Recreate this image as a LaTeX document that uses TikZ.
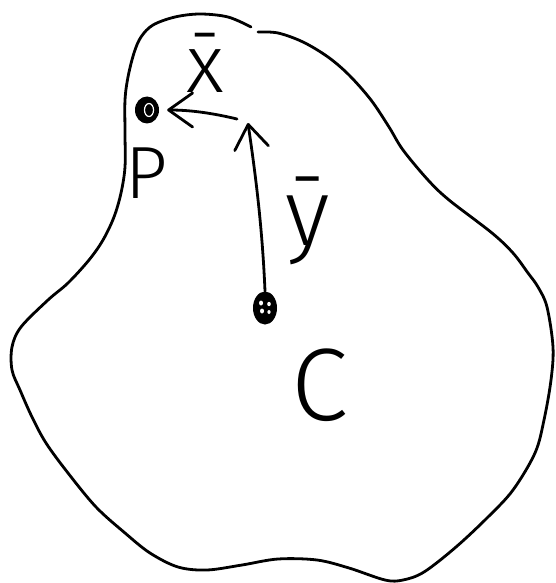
\documentclass[tikz,border=0pt]{standalone}
\usepackage{fontspec}
\newfontfamily\hand{Fira Sans Light}
\usetikzlibrary{arrows.meta,shapes.geometric}
\tikzset{
  pen/.style={line width=2.8pt, line cap=round, line join=round},
  arr/.style={pen, -{Straight Barb[length=24pt,width=34pt,round]}},
  dot/.style={ellipse, fill=black, draw=none, inner sep=0pt},
  lbl/.style={inner sep=0pt, anchor=base},
}
\newcommand{\hfs}[1]{\hand\fontsize{#1}{#1}\selectfont}
\begin{document}
\begin{tikzpicture}[x=1pt,y=-1pt]
\useasboundingbox (0,0) rectangle (555,583);
% outline
\draw[pen] plot[smooth, tension=0.55] coordinates {
(258,32) (278,33) (303,42) (328,57) (349,75) (371,100) (389,127) (403,150)
(428,180) (449,200) (492,233) (513,253) (528,273) (538,287) (547,307)
(553,347) (551,380) (544,420) (535,453) (513,490) (488,517) (456,547)
(424,572) (403,580) (385,580) (349,568) (317,560) (278,559) (242,565)
(207,570) (178,567) (150,553) (125,533) (96,507) (68,473) (46,443)
(32,417) (20,390) (12,370) (12,347) (21,327) (48,300) (68,283) (89,260)
(103,240) (114,217) (121,193) (125,167) (125,133) (125,100) (128,77)
(134,53) (141,37) (153,25) (175,17) (200,14) (228,17) (251,27)};
% points
\node[dot, minimum width=24pt, minimum height=27pt] (P) at (147,110) {};
\draw[white, line width=1.2pt] (149,110) ellipse (4.5pt and 6.5pt);
\node[dot, minimum width=24pt, minimum height=33pt] (C) at (265,308) {};
\fill[white] (261,303) ellipse (2pt and 2.5pt) (269,304) ellipse (1.8pt and 2.2pt)
  (262,311) ellipse (2pt and 2.5pt) (269,312) ellipse (1.6pt and 2pt);
% arrows
\coordinate (ytip) at (248,123);
\coordinate (xtail) at (237,119);
\draw[arr] (C.north) .. controls (262,220) and (254,165) .. (ytip);
\draw[arr, shorten >=8pt] (xtail) .. controls (212,113) and (190,110) .. (P.east);
% labels
\node[lbl, font=\hfs{82pt}] (xl) at (205,93) {x̄};
\node[lbl, font=\hfs{74pt}] (pl) at (147,198) {P};
\node[lbl, font=\hfs{95pt}] (yl) at (308,245) {ȳ};
\node[lbl, font=\hfs{103pt}] (cl) at (320,420) {C};
\end{tikzpicture}
\end{document}
